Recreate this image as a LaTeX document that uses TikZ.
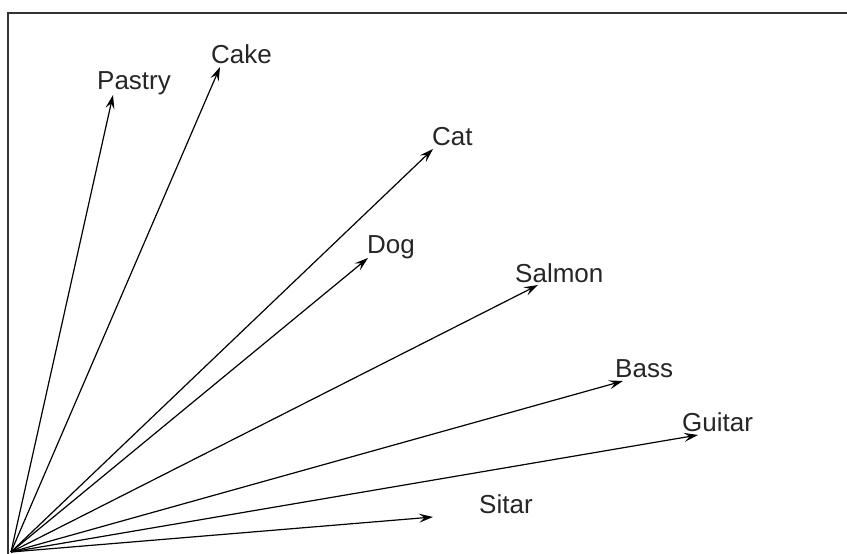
\documentclass[tikz,border=0pt]{standalone}
\usepackage{fontspec}
\setmainfont{Liberation Sans}
\usetikzlibrary{arrows.meta}
\begin{document}
\begin{tikzpicture}[x=1pt,y=-1pt,
  arr/.style={line width=1.2pt,-{Stealth[length=14pt,width=9pt,inset=5.5pt]}},
  lbl/.style={anchor=base west,inner sep=0pt,font=\fontsize{26}{30}\selectfont,text=black!85}]
\useasboundingbox (0,0) rectangle (847,554);
\draw[line width=1.6pt,black!80] (8,13) rectangle (860,570);
\coordinate (O) at (11,552);
\coordinate (tPastry) at (113,95);
\coordinate (tCake) at (220,67);
\coordinate (tCat) at (433,149);
\coordinate (tDog) at (368,258);
\coordinate (tSalmon) at (538,285);
\coordinate (tBass) at (623,381);
\coordinate (tGuitar) at (698,435);
\coordinate (tSitar) at (433,517);
\node[lbl] (Pastry) at (97,89) {Pastry};
\node[lbl] (Cake) at (211,63) {Cake};
\node[lbl] (Cat) at (432,145) {Cat};
\node[lbl] (Dog) at (367,253) {Dog};
\node[lbl] (Salmon) at (515,282) {Salmon};
\node[lbl] (Bass) at (615,377) {Bass};
\node[lbl] (Guitar) at (682,431) {Guitar};
\node[lbl] (Sitar) at (479,513) {Sitar};
\foreach \t in {tPastry,tCake,tCat,tDog,tSalmon,tBass,tGuitar,tSitar}
  \draw[arr] (O) -- (\t);
\end{tikzpicture}
\end{document}
